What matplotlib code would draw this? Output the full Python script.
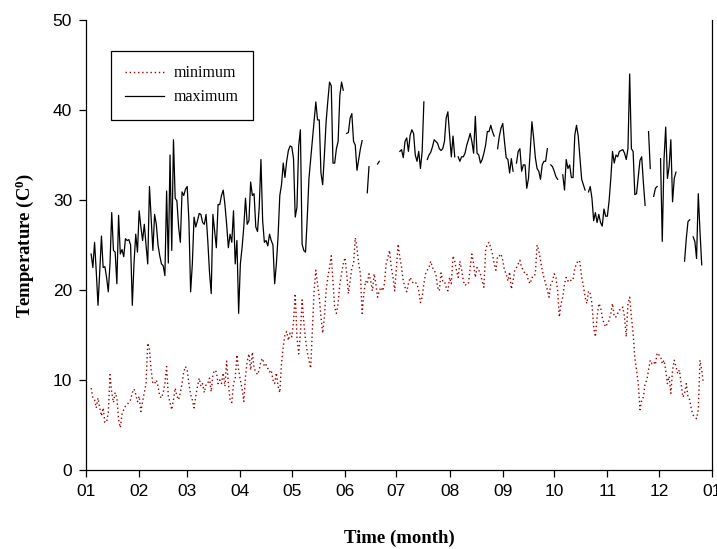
import numpy as np
import pandas as pd
import matplotlib
matplotlib.use('Agg')
import matplotlib.pyplot as plt

nan = np.nan

# daily series, first value on 4 Jan; nan = missing day
start_day = '2001-01-04'

tmin = [
    9.1, 8.0, 7.8, 6.9, 8.0, 6.9, 6.0, 6.9, 5.3, 5.3, 6.4, 10.6, 8.6, 7.5, 8.6, 8.0, 5.6, 4.7, 6.2, 6.7,
    7.1, 7.3, 7.5, 7.8, 8.6, 9.0, 8.4, 7.6,  # jan
    8.2, 6.5, 7.6, 8.6, 9.6, 14.1, 13.4, 11.1, 9.6, 9.6, 10.0, 9.3, 8.2, 8.0, 8.6, 9.6, 11.5, 8.2, 7.5, 6.7,
    7.8, 9.1, 8.2, 7.8, 8.6, 9.6, 10.9, 11.5,  # feb
    11.1, 9.6, 8.4, 7.8, 6.9, 8.2, 9.3, 10.2, 9.3, 9.6, 8.6, 9.5, 9.6, 10.2, 8.7, 10.6, 11.1, 10.9, 9.6,
    10.0, 9.6, 10.8, 9.3, 12.1, 9.6, 7.8, 7.5, 9.6, 10.2, 12.8, 11.1,  # mar
    10.0, 9.0, 7.6, 10.4, 12.1, 12.9, 11.1, 13.1, 11.3, 10.9, 10.6, 11.1, 12.1, 12.4, 11.5, 11.7, 11.3, 10.9,
    11.1, 10.0, 9.6, 10.8, 9.3, 8.6, 11.9, 13.7, 15.0, 15.4, 14.4, 15.2,  # apr
    14.8, 16.5, 19.6, 14.8, 12.9, 15.2, 18.9, 16.4, 14.5, 13.1, 12.2, 11.3, 15.5, 19.9, 22.2, 20.7, 19.2,
    17.0, 15.2, 17.0, 19.9, 21.4, 22.5, 23.8, 21.0, 18.1, 17.4, 18.5, 20.7, 21.8, 22.9,  # may
    23.6, 21.8, 19.6, 21.0, 22.5, 22.9, 25.8, 24.7, 22.9, 21.8, 17.4, 19.6, 21.0, 20.7, 21.8, 21.0, 19.9,
    21.8, 20.7, 19.2, 19.9, 20.3, 19.9, 20.7, 22.9, 23.6, 24.4, 22.5, 21.4, 19.9,  # jun
    22.5, 25.1, 23.6, 22.5, 21.0, 20.3, 19.8, 20.7, 21.4, 21.0, 20.7, 20.8, 20.7, 19.9, 18.6, 19.2, 20.7,
    21.8, 22.2, 22.5, 23.2, 22.5, 22.2, 21.8, 20.3, 19.9, 21.9, 21.0, 21.0, 20.3, 19.9,  # jul
    21.4, 20.7, 23.8, 23.2, 22.2, 21.4, 23.2, 22.3, 21.0, 20.5, 20.7, 20.7, 22.5, 24.0, 22.9, 21.4, 22.5,
    22.2, 21.8, 21.0, 20.3, 24.4, 25.1, 25.3, 24.7, 24.0, 22.9, 22.2, 23.8, 23.8, 24.0,  # aug
    23.3, 22.2, 21.8, 21.0, 22.0, 20.1, 21.0, 22.2, 22.5, 22.9, 23.3, 22.5, 22.2, 21.8, 21.8, 21.0, 20.7,
    21.4, 21.4, 21.8, 25.0, 24.4, 23.3, 22.2, 21.4, 20.7, 20.0, 19.2, 20.7, 21.0,  # sep
    21.8, 21.4, 19.9, 17.0, 18.5, 19.2, 20.7, 21.4, 21.0, 21.2, 21.0, 21.2, 22.4, 22.9, 23.3, 23.1, 21.4,
    20.5, 19.2, 18.5, 19.9, 19.6, 18.5, 15.9, 14.8, 17.0, 18.5, 18.1, 17.0, 16.3, 15.9,  # oct
    16.3, 16.6, 17.4, 18.5, 17.0, 17.0, 17.4, 17.8, 17.8, 18.1, 17.0, 14.8, 18.5, 19.2, 17.0, 15.2, 12.5,
    11.1, 9.6, 6.7, 7.8, 8.1, 9.6, 10.0, 11.1, 12.2, 11.8, 12.0, 11.7, 13.0,  # nov
    12.8, 12.6, 11.8, 12.2, 11.1, 9.6, 10.4, 8.5, 11.1, 12.2, 11.5, 10.7, 11.1, 9.6, 8.1, 8.5, 9.6, 8.1,
    7.8, 6.7, 6.1, 5.9, 5.7, 6.7, 12.2, 11.1, 9.6,  # dec
]

tmax = [
    24.0, 22.5, 25.3, 22.0, 18.3, 22.0, 26.0, 22.5, 22.6, 21.4, 19.8, 23.0, 28.6, 24.4, 24.2, 20.7, 28.3,
    24.0, 24.5, 23.7, 25.7, 25.5, 25.6, 25.0, 18.3, 23.0, 26.2, 24.2,  # jan
    28.8, 27.0, 25.5, 27.3, 25.0, 22.9, 31.5, 28.0, 24.4, 28.4, 27.3, 25.0, 23.8, 22.9, 22.7, 21.6, 31.0,
    23.0, 35.0, 24.4, 36.7, 30.2, 29.9, 27.0, 25.3, 30.9, 30.5, 31.2,  # feb
    31.5, 27.7, 19.8, 22.9, 28.1, 27.0, 27.7, 28.5, 28.4, 27.5, 27.3, 28.4, 25.5, 22.0, 19.6, 28.4, 26.5,
    24.7, 29.5, 29.5, 30.5, 31.1, 29.5, 27.3, 24.7, 26.2, 25.3, 28.8, 22.9, 25.5, 17.4,  # mar
    22.9, 24.7, 27.0, 30.2, 27.3, 27.7, 32.0, 30.5, 30.7, 27.0, 26.5, 29.2, 34.5, 27.7, 25.3, 25.5, 24.9,
    26.2, 25.5, 25.0, 20.7, 22.9, 26.0, 30.5, 31.7, 34.1, 32.5, 34.3, 35.5, 36.0,  # apr
    35.9, 34.6, 28.1, 29.2, 36.0, 37.8, 25.1, 24.4, 24.2, 28.0, 32.4, 34.5, 36.5, 38.7, 40.9, 38.9, 38.9,
    33.0, 31.7, 35.0, 38.7, 41.0, 43.1, 42.7, 34.1, 34.1, 35.7, 36.5, 41.6, 43.1, 42.2,  # may
    nan, 37.4, 37.5, 39.1, 39.6, 36.5, 36.1, 33.3, 34.5, 35.7, 36.6, nan, nan, 30.8, 33.7, nan, nan, nan,
    nan, 34.0, 34.3, nan, nan, nan, nan, nan, nan, nan, nan, nan,  # jun
    nan, nan, 35.4, 35.6, 34.7, 36.5, 36.9, 35.4, 37.2, 37.8, 37.4, 35.0, 34.3, 35.4, 33.5, 35.4, 40.9,
    nan, 34.5, 35.0, 35.3, 35.9, 36.7, 36.5, 36.3, 35.7, 35.5, 35.7, 36.5, 39.1, 39.8,  # jul
    37.2, 34.8, 37.1, 34.8, nan, 34.8, 34.3, 34.8, 34.8, 35.2, 36.1, 36.7, 37.4, 36.5, 35.2, 39.3, 35.2,
    35.0, 34.1, 34.5, 35.2, 36.1, 37.6, 37.6, 38.3, 37.6, 37.1, nan, 35.7, 37.1, 38.0,  # aug
    38.5, 36.5, 34.7, 34.5, 33.0, 34.6, 33.2, nan, 34.1, 35.4, 35.7, 33.2, 33.9, 33.9, 31.3, 32.4, 35.4,
    38.7, 36.9, 34.7, 33.5, 33.2, 32.3, 33.9, 34.3, 34.3, 35.7, nan, 33.9, 33.7,  # sep
    33.2, 32.6, 32.3, nan, nan, 32.8, 31.1, 34.5, 33.5, 33.9, 32.5, 32.5, 37.2, 38.3, 37.1, 34.7, 32.3,
    31.7, 31.1, nan, 30.9, 31.5, 30.2, 27.7, 28.6, 27.5, 28.4, 27.5, 27.1, 29.0, 28.2,  # oct
    28.2, 29.9, 32.4, 35.4, 34.1, 35.0, 34.8, 35.4, 35.5, 35.6, 35.2, 34.5, 35.7, 44.0, 35.7, 35.4, 30.6,
    30.7, 32.5, 34.4, 34.8, 31.9, 29.4, nan, 37.6, 33.5, nan, 30.4, 31.3, 31.5,  # nov
    nan, 34.6, 25.4, 34.4, 38.1, 32.4, 33.7, 36.7, 29.8, 32.4, 33.1, nan, nan, nan, nan, 23.2, 25.7, 27.6,
    27.8, nan, 25.9, 25.4, 23.5, 30.7, 26.5, 22.8, nan,  # dec
]

month_labels = ['01', '02', '03', '04', '05', '06', '07', '08', '09', '10', '11', '12', '01']

days = pd.date_range(start_day, periods=len(tmin), freq='D')

plt.rcParams['mathtext.default'] = 'regular'

fig = plt.figure(figsize=(7.17, 5.49), dpi=100)
ax = fig.add_axes([86 / 717, 1 - 470 / 549, 626 / 717, 450 / 549])

ax.plot(days, tmin, color='#990000', lw=1.0, ls=(0, (1, 2)), label='minimum')
ax.plot(days, tmax, color='black', lw=0.9, label='maximum')

ax.set_ylim(0, 50)
ax.set_xlim(pd.Timestamp('2001-01-01'), pd.Timestamp('2002-01-01'))
ax.set_xticks(pd.date_range('2001-01-01', '2002-01-01', freq='MS'))
ax.set_xticklabels(month_labels)
ax.set_yticks(range(0, 51, 10))
ax.tick_params(direction='out', length=5, width=0.9, labelsize=12.5, pad=5)
for lab in ax.get_xticklabels() + ax.get_yticklabels():
    lab.set_fontfamily('Liberation Sans')
ax.spines['top'].set_visible(False)
for s in ['left', 'bottom', 'right']:
    ax.spines[s].set_linewidth(0.9)

ax.set_xlabel('Time (month)', fontfamily='Liberation Serif', fontweight='bold', fontsize=13.5, labelpad=22)
ax.set_ylabel('Temperature (C$^0$)', fontfamily='Liberation Serif', fontweight='bold', fontsize=13.5, labelpad=12)

leg = ax.legend(loc='upper left', bbox_to_anchor=(0.04, 0.931), borderaxespad=0, fancybox=False,
                framealpha=1, edgecolor='black', handlelength=2.4, handletextpad=0.6,
                borderpad=0.9, labelspacing=0.5,
                prop={'family': 'Liberation Serif', 'size': 11.5})
leg.get_frame().set_linewidth(0.9)

fig.savefig('out.png', dpi=100)
